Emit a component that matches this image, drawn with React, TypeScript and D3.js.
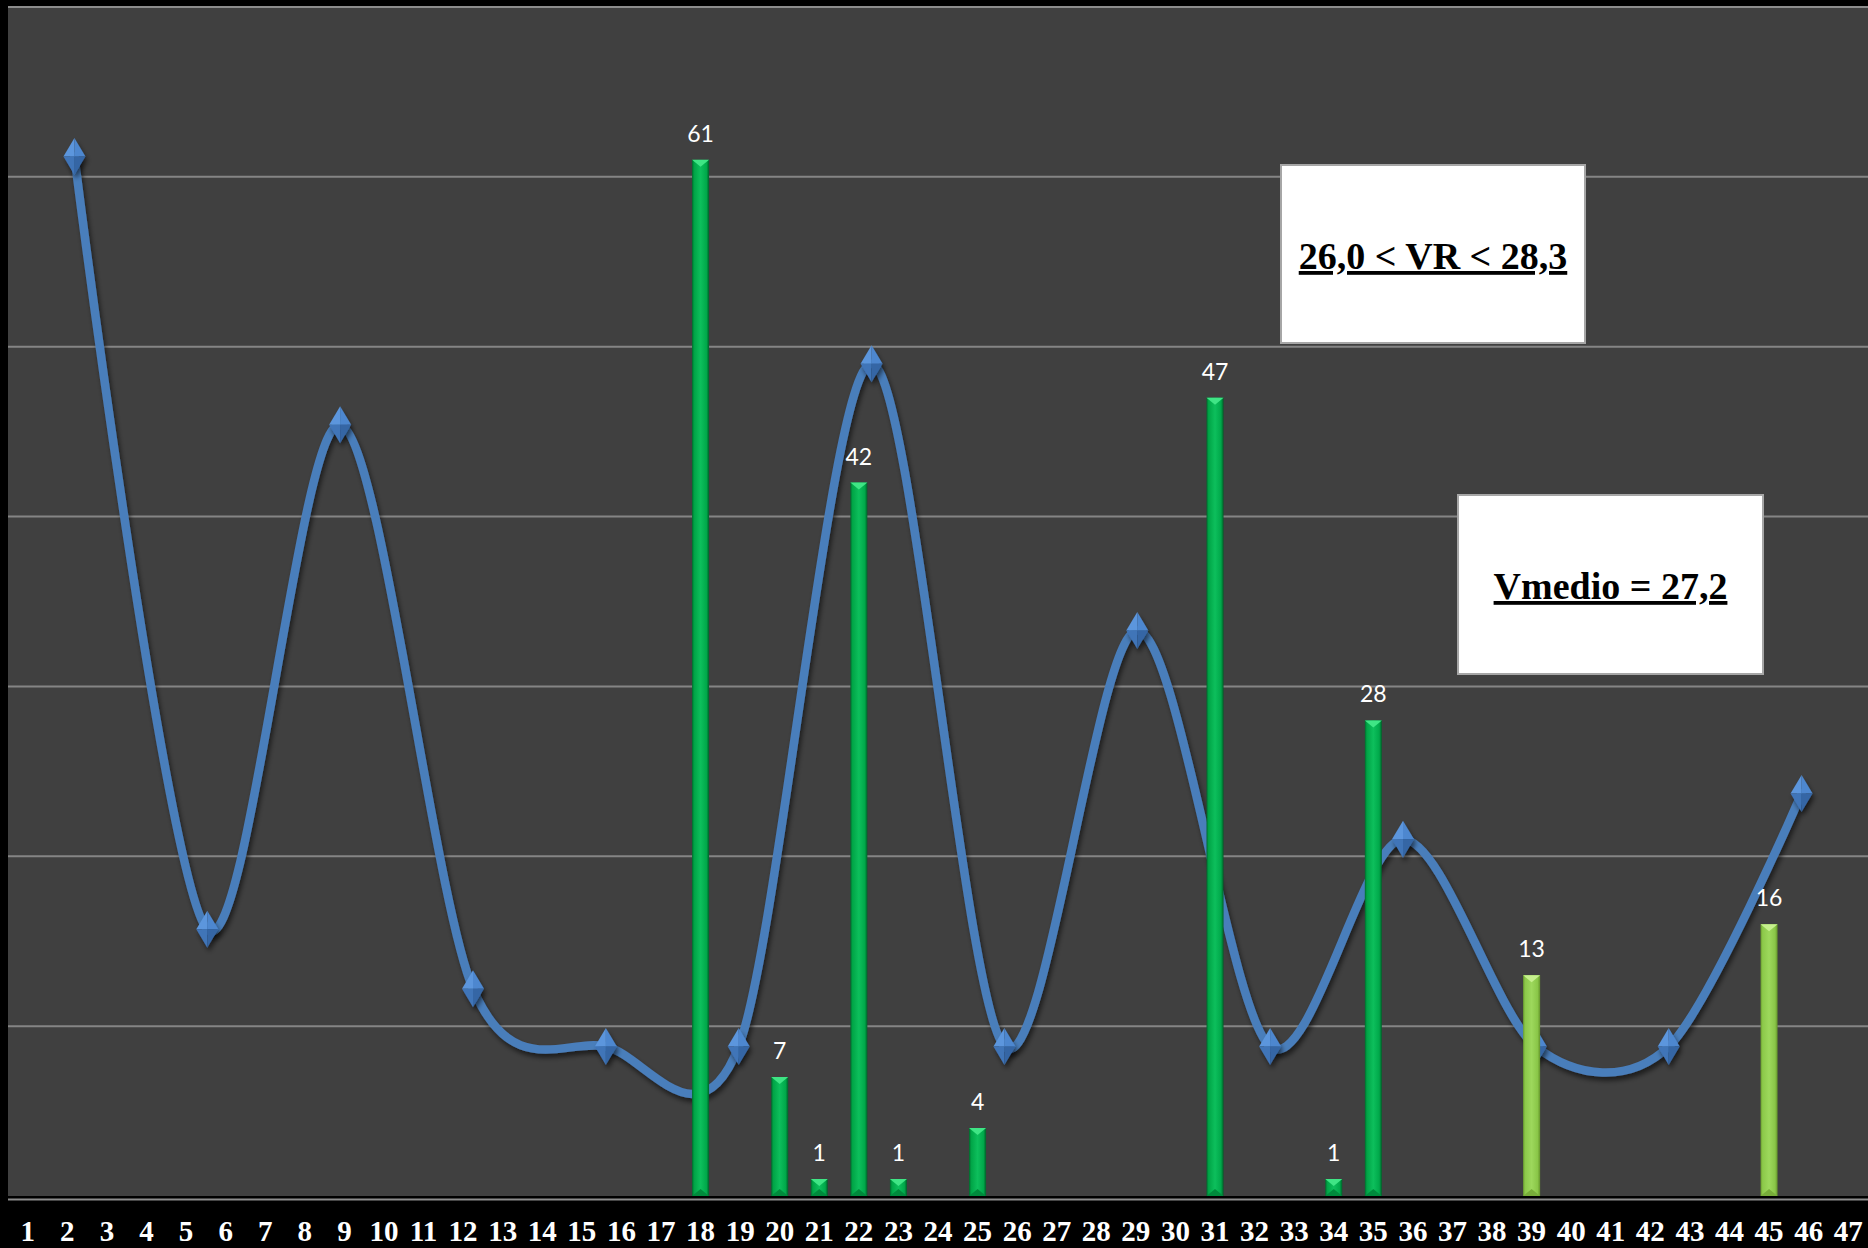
import React from "react";
import * as d3 from "d3";

// ---- data ----
const categories = [
  "1","2","3","4","5","6","7","8","9","10","11","12","13","14","15","16",
  "17","18","19","20","21","22","23","24","25","26","27","28","29","30","31","32",
  "33","34","35","36","37","38","39","40","41","42","43","44","45","46","47",
];
const barCategories = ["18","20","21","22","23","25","31","34","35","39","45"];
const barValues = [61, 7, 1, 42, 1, 4, 47, 1, 28, 13, 16];
const barGroups = ["dark","dark","dark","dark","dark","dark","dark","dark","dark","light","light"];

const lineCategories = ["1","2","3","4","5","6","7","8","9","10","11","12","13","14"];
const lineValues = [61.2, 15.7, 45.4, 12.2, 8.8, 8.8, 49.0, 8.8, 33.3, 8.8, 21.0, 8.8, 8.8, 23.7];

const yTicks = [10, 20, 30, 40, 50, 60];
const boxTexts = ["26,0 < VR < 28,3", "Vmedio = 27,2"];

// ---- layout ----
const W = 1868;
const H = 1248;
const plotLeft = 8;
const plotRight = 1868;
const plotTop = 7;
const plotBottom = 1196;

export default function App() {
  const x = d3
    .scaleBand<string>()
    .domain(categories)
    .range([plotLeft, plotRight])
    .paddingInner(0.57)
    .paddingOuter(0.285);
  const xLine = d3
    .scalePoint<string>()
    .domain(lineCategories)
    .range([plotLeft, plotRight])
    .padding(0.5);
  const y = d3.scaleLinear().domain([0, 70]).range([plotBottom, plotTop]);

  const linePath = d3
    .line<number>()
    .x((_, i) => xLine(lineCategories[i]) as number)
    .y((d) => y(d))
    .curve(d3.curveCardinal.tension(0.1))(lineValues) as string;

  const bw = x.bandwidth();
  const dw = 11;
  const dh = 18.5;

  const boxes = [
    { x: 1281, y: 165, w: 304, h: 178, ty: 269 },
    { x: 1458, y: 495, w: 305, h: 179, ty: 599 },
  ];

  return (
    <svg
      width={W}
      height={H}
      style={{ position: "absolute", left: 0, top: 0, display: "block" }}
    >
      <defs>
        <linearGradient id="gDark" x1="0" x2="1" y1="0" y2="0">
          <stop offset="0" stopColor="#00692c" />
          <stop offset="0.12" stopColor="#00a446" />
          <stop offset="0.5" stopColor="#0dbf5c" />
          <stop offset="0.85" stopColor="#00a84a" />
          <stop offset="1" stopColor="#005f28" />
        </linearGradient>
        <linearGradient id="gLight" x1="0" x2="1" y1="0" y2="0">
          <stop offset="0" stopColor="#6a9e2e" />
          <stop offset="0.12" stopColor="#8cc84a" />
          <stop offset="0.5" stopColor="#9dd85c" />
          <stop offset="0.85" stopColor="#8ac648" />
          <stop offset="1" stopColor="#64952a" />
        </linearGradient>
        <filter id="shadow" x="-50%" y="-50%" width="200%" height="200%">
          <feGaussianBlur in="SourceAlpha" stdDeviation="2.5" />
          <feOffset dx="2" dy="4" result="b" />
          <feComponentTransfer>
            <feFuncA type="linear" slope="0.55" />
          </feComponentTransfer>
          <feMerge>
            <feMergeNode />
            <feMergeNode in="SourceGraphic" />
          </feMerge>
        </filter>
      </defs>

      <rect x={0} y={0} width={W} height={H} fill="#000" />
      <rect
        x={plotLeft}
        y={plotTop}
        width={plotRight - plotLeft}
        height={plotBottom - plotTop}
        fill="#404040"
      />
      <line x1={plotLeft} x2={plotRight} y1={plotTop} y2={plotTop} stroke="#8c8c8c" strokeWidth={2} />

      {yTicks.map((t) => (
        <line
          key={t}
          x1={plotLeft}
          x2={plotRight}
          y1={y(t)}
          y2={y(t)}
          stroke="#858585"
          strokeWidth={2}
        />
      ))}
      <line x1={plotLeft} x2={plotRight} y1={plotBottom + 3.5} y2={plotBottom + 3.5} stroke="#8c8c8c" strokeWidth={2} />

      {/* line series */}
      <path
        d={linePath}
        fill="none"
        stroke="#4a7ebb"
        strokeWidth={8.5}
        strokeLinecap="round"
        filter="url(#shadow)"
      />
      {lineValues.map((v, i) => {
        const cx = xLine(lineCategories[i]) as number;
        const cy = y(v);
        return (
          <g key={"m" + i} filter="url(#shadow)">
            <path d={`M${cx},${cy - dh} L${cx - dw},${cy} L${cx},${cy} Z`} fill="#5b96dd" />
            <path d={`M${cx},${cy - dh} L${cx + dw},${cy} L${cx},${cy} Z`} fill="#4d87cf" />
            <path d={`M${cx - dw},${cy} L${cx},${cy + dh} L${cx},${cy} Z`} fill="#3f74b8" />
            <path d={`M${cx + dw},${cy} L${cx},${cy + dh} L${cx},${cy} Z`} fill="#3566a5" />
          </g>
        );
      })}

      {/* bars */}
      {barValues.map((v, i) => {
        const bx = x(barCategories[i]) as number;
        const top = y(v);
        const light = barGroups[i] === "light";
        const tri = light ? "#c6f08e" : "#3fe585";
        const bot = light ? "#78ad3a" : "#008a3c";
        const cx = bx + bw / 2;
        return (
          <g key={"b" + i}>
            <rect
              x={bx}
              y={top}
              width={bw}
              height={plotBottom - top}
              fill={light ? "url(#gLight)" : "url(#gDark)"}
            />
            <path d={`M${bx},${top} L${bx + bw},${top} L${cx},${top + 7} Z`} fill={tri} />
            <path
              d={`M${bx},${plotBottom} L${bx + bw},${plotBottom} L${cx},${plotBottom - 7} Z`}
              fill={bot}
            />
            <text
              x={cx}
              y={top - 18}
              textAnchor="middle"
              fill="#ffffff"
              fontFamily="Lato, 'Noto Sans', sans-serif"
              fontSize={23}
            >
              {v}
            </text>
          </g>
        );
      })}

      {/* x tick labels */}
      {categories.map((c) => (
        <text
          key={"t" + c}
          x={(x(c) as number) + bw / 2}
          y={1241}
          textAnchor="middle"
          fill="#ffffff"
          fontFamily="'Liberation Serif', 'Times New Roman', serif"
          fontWeight="bold"
          fontSize={29}
        >
          {c}
        </text>
      ))}

      {/* annotation boxes */}
      {boxes.map((b, i) => (
        <g key={"box" + i}>
          <rect
            x={b.x}
            y={b.y}
            width={b.w}
            height={b.h}
            fill="#ffffff"
            stroke="#a6a6a6"
            strokeWidth={2}
          />
          <text
            x={b.x + b.w / 2}
            y={b.ty}
            textAnchor="middle"
            fill="#000"
            fontFamily="'Liberation Serif', 'Times New Roman', serif"
            fontWeight="bold"
            fontSize={38}
            style={{ textDecoration: "underline" }}
          >
            {boxTexts[i]}
          </text>
        </g>
      ))}
    </svg>
  );
}
